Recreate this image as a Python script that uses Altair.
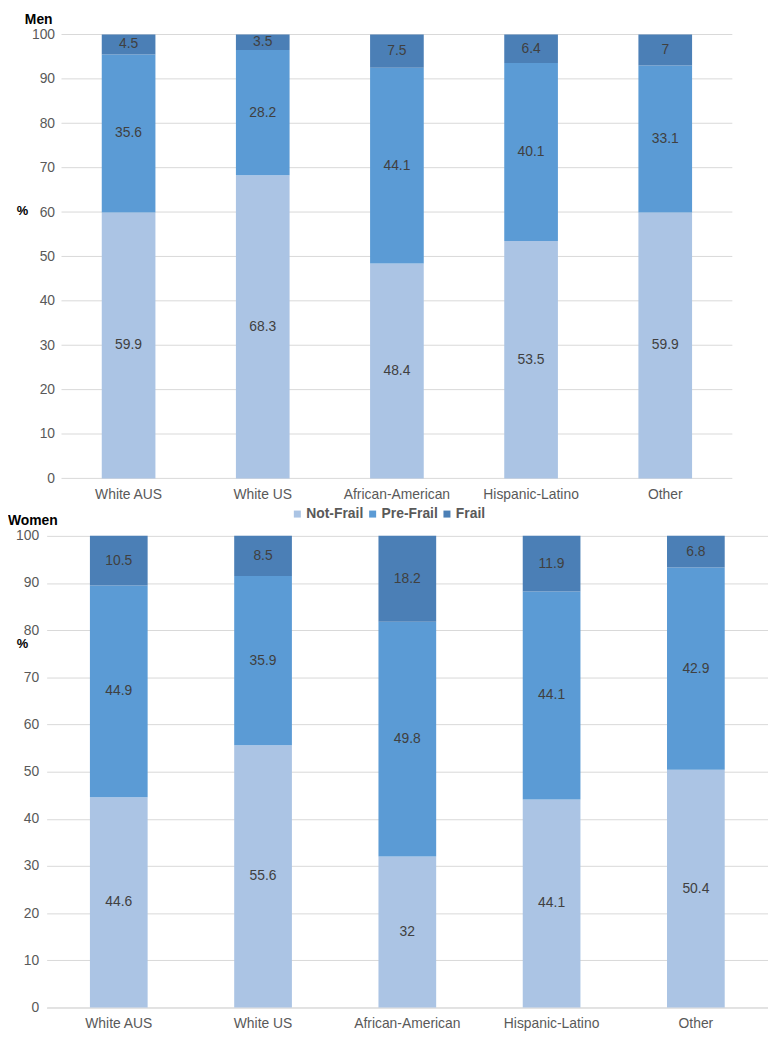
import altair as alt
import pandas as pd

groups = ["White AUS", "White US", "African-American", "Hispanic-Latino", "Other"]
statuses = ["Not-Frail", "Pre-Frail", "Frail"]
colors = ["#abc4e4", "#5b9bd5", "#4b7fb6"]

men_not_frail = [59.9, 68.3, 48.4, 53.5, 59.9]
men_pre_frail = [35.6, 28.2, 44.1, 40.1, 33.1]
men_frail = [4.5, 3.5, 7.5, 6.4, 7]

women_not_frail = [44.6, 55.6, 32, 44.1, 50.4]
women_pre_frail = [44.9, 35.9, 49.8, 44.1, 42.9]
women_frail = [10.5, 8.5, 18.2, 11.9, 6.8]

y_ticks = [0, 10, 20, 30, 40, 50, 60, 70, 80, 90, 100]

FONT = "Liberation Sans"
LABEL_GREY = "#595959"
GRID = "#d9d9d9"


def build(series):
    rows = []
    for gi, g in enumerate(groups):
        base = 0.0
        for si, s in enumerate(statuses):
            v = series[si][gi]
            top = min(base + v, 100.0)
            rows.append({"group": g, "status": s, "k": si, "value": v,
                         "y0": base, "y1": top, "mid": (base + top) / 2,
                         "label": f"{v:g}"})
            base += v
    return pd.DataFrame(rows)


men = build([men_not_frail, men_pre_frail, men_frail])
women = build([women_not_frail, women_pre_frail, women_frail])
ticks_df = pd.DataFrame({"v": y_ticks})

color_scale = alt.Scale(domain=statuses, range=colors)

# ---------- Men panel ----------
TOP_W, TOP_H = 692, 448
TOP_SHIFT = 15

men_grid = alt.Chart(ticks_df).mark_rule(color=GRID, strokeWidth=1).encode(
    y=alt.Y("v:Q", scale=alt.Scale(domain=[0, 100], nice=False),
            axis=alt.Axis(values=y_ticks, grid=False, domain=False, ticks=False,
                          offset=-TOP_SHIFT, labelPadding=7, labelFontSize=14,
                          labelColor=LABEL_GREY, labelFont=FONT,
                          title="%", titleAngle=0, titleX=-40, titleY=178,
                          titleAlign="center", titleBaseline="middle",
                          titleFont=FONT, titleFontSize=13, titleColor="#000000",
                          titleFontWeight="bold")),
    x=alt.value(TOP_SHIFT), x2=alt.value(TOP_W),
)

men_x = alt.X("group:N", sort=groups,
              scale=alt.Scale(range=[TOP_SHIFT, TOP_W], paddingInner=0.6, paddingOuter=0.3),
              axis=alt.Axis(title=None, labelAngle=0, domain=False, ticks=False,
                            labelPadding=9, labelFontSize=14, labelColor=LABEL_GREY,
                            labelFont=FONT))

men_bars = alt.Chart(men).mark_bar().encode(
    x=men_x,
    y=alt.Y("y0:Q"), y2="y1:Q",
    color=alt.Color("status:N", scale=color_scale, legend=None),
)
men_text = alt.Chart(men).mark_text(fontSize=14, color="#404040", font=FONT).encode(
    x=alt.X("group:N", sort=groups), y="mid:Q", text="label:N",
)

men_chart = alt.layer(men_grid, men_bars, men_text).properties(
    width=TOP_W, height=TOP_H,
    title=alt.TitleParams("Men", anchor="start", frame="group", dx=-22, offset=1,
                          font=FONT, fontSize=14, fontWeight="bold", color="#000000"),
)

# ---------- Women panel ----------
BOT_W, BOT_H = 728, 476

women_bars = alt.Chart(women).mark_bar().encode(
    x=alt.X("group:N", sort=groups,
            scale=alt.Scale(paddingInner=0.6, paddingOuter=0.3),
            axis=alt.Axis(title=None, labelAngle=0, domain=True, domainColor=GRID,
                          ticks=False, labelPadding=9, labelFontSize=14,
                          labelColor=LABEL_GREY, labelFont=FONT)),
    y=alt.Y("y0:Q", scale=alt.Scale(domain=[0, 100], nice=False),
            axis=alt.Axis(values=y_ticks, grid=True, gridColor=GRID, domain=False,
                          ticks=False, labelPadding=8, labelFontSize=14,
                          labelColor=LABEL_GREY, labelFont=FONT,
                          title="%", titleAngle=0, titleX=-25, titleY=109,
                          titleAlign="center", titleBaseline="middle",
                          titleFont=FONT, titleFontSize=13, titleColor="#000000",
                          titleFontWeight="bold")),
    y2="y1:Q",
    color=alt.Color("status:N", scale=color_scale,
                    legend=alt.Legend(title=None, orient="none", direction="horizontal",
                                      legendX=246, legendY=-29, symbolType="square",
                                      symbolSize=50, symbolStrokeWidth=0,
                                      labelFont=FONT, labelFontSize=14,
                                      labelFontWeight="bold", labelColor=LABEL_GREY,
                                      columnPadding=2, labelOffset=2)),
)
women_text = alt.Chart(women).mark_text(fontSize=14, color="#404040", font=FONT).encode(
    x=alt.X("group:N", sort=groups), y="mid:Q", text="label:N",
)

women_chart = alt.layer(women_bars, women_text).properties(
    width=BOT_W, height=BOT_H,
    title=alt.TitleParams("Women", anchor="start", frame="group", dx=-39, offset=6, dy=27,
                          font=FONT, fontSize=14, fontWeight="bold", color="#000000"),
)

chart = alt.vconcat(men_chart, women_chart, spacing=6).resolve_scale(
    x="independent", y="independent"
).resolve_legend(color="independent").properties(
    padding={"left": 0, "top": 0, "right": 0, "bottom": 0}
).configure_view(stroke=None)

chart.save("out.html", embed_options={"renderer": "svg", "actions": False})
